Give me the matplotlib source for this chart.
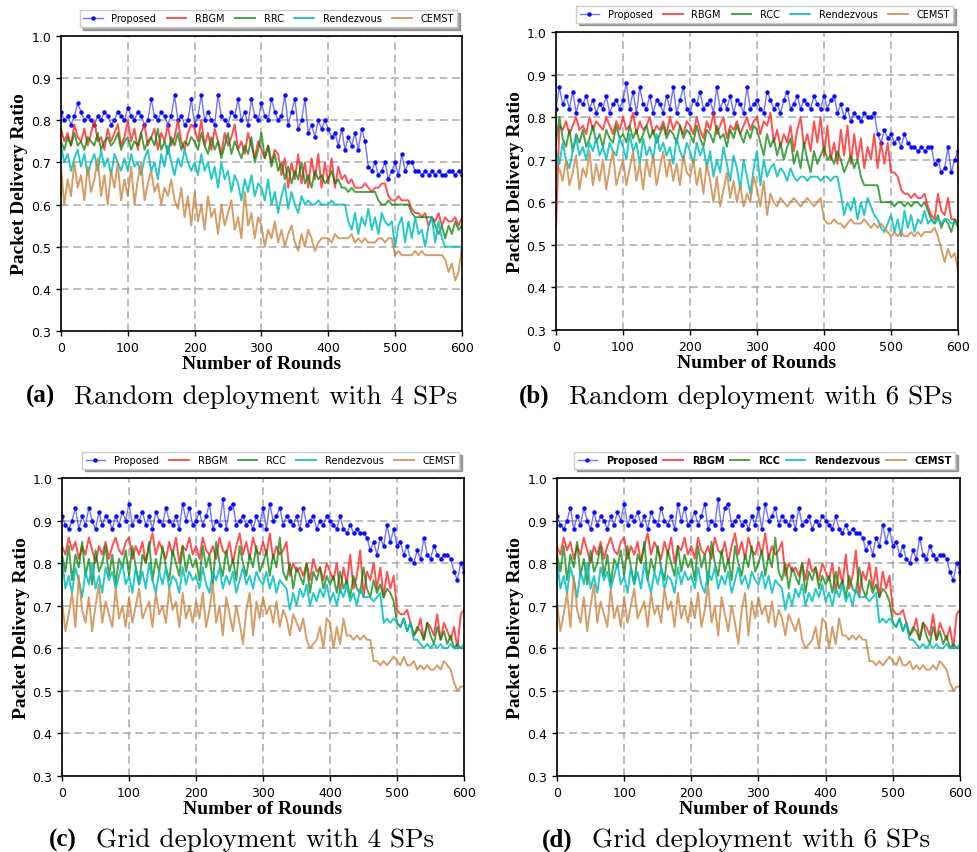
import numpy as np
import matplotlib
matplotlib.use("Agg")
import matplotlib.pyplot as plt

# rounds sampled every 5
rounds = list(range(0, 601, 5))
names_a = ["Proposed", "RBGM", "RRC", "Rendezvous", "CEMST"]
names = ["Proposed", "RBGM", "RCC", "Rendezvous", "CEMST"]
captions = [("(a)", "Random deployment with 4 SPs"),
            ("(b)", "Random deployment with 6 SPs"),
            ("(c)", "Grid deployment with 4 SPs"),
            ("(d)", "Grid deployment with 6 SPs")]

# packet delivery ratio in percent
# (a) random, 4 SPs
a_proposed = [82,80,81,79,81,84,82,80,81,80,79,81,80,82,81,79,80,82,81,80,
              83,81,80,82,81,79,80,85,81,80,82,81,79,81,86,80,81,79,80,85,
              79,81,86,80,82,80,79,86,81,80,79,82,81,85,80,82,79,85,81,80,
              84,81,80,85,82,80,81,86,79,82,85,78,80,85,77,79,76,80,78,80,
              78,76,77,74,78,73,76,74,77,73,78,75,69,68,70,67,68,70,66,68,
              70,67,72,68,70,70,68,68,67,68,67,68,67,68,67,67,68,68,67,68,67]
a_rbgm = [78,75,77,74,79,76,75,78,74,77,80,75,76,73,78,75,77,79,74,76,
          80,75,78,73,77,79,74,76,78,73,77,75,79,74,76,80,75,73,77,79,
          78,75,80,74,77,73,78,75,72,77,74,76,79,73,75,72,77,74,71,75,
          73,71,74,70,73,72,67,71,64,70,66,72,65,70,64,71,66,72,64,70,
          65,71,64,69,66,67,65,66,64,64,64,65,64,63,64,64,65,65,62,61,
          61,62,61,61,61,59,58,58,57,58,55,57,56,58,55,57,56,56,57,55,57]
a_rrc = [75,73,76,74,77,74,75,73,76,75,74,77,73,75,76,74,75,77,73,75,
         76,73,75,74,77,73,75,76,74,78,73,75,72,76,74,77,73,75,74,76,
         75,73,77,74,72,76,73,75,71,74,77,72,75,73,71,74,72,76,70,73,
         77,71,74,69,72,68,70,66,69,65,68,66,70,65,67,64,68,66,67,65,
         66,68,65,66,64,64,63,64,63,63,63,63,63,63,63,61,60,60,61,60,
         60,60,60,60,60,58,57,57,57,57,57,57,55,53,55,52,55,53,56,54,55]
a_rdv = [74,70,72,68,71,73,69,72,67,70,72,68,73,69,71,67,72,70,68,71,
         68,72,69,70,67,71,73,68,70,66,72,69,74,70,67,71,69,73,70,68,
         70,67,72,68,70,66,69,64,70,66,68,63,67,65,61,66,63,67,62,65,
         64,61,66,60,63,58,62,65,59,63,60,58,62,60,61,60,60,61,60,60,
         60,61,60,60,60,60,56,54,58,53,57,55,59,54,57,53,58,56,55,56,
         50,55,57,51,56,52,57,53,54,50,55,57,51,56,52,50,50,50,50,50,50]
a_cemst = [69,60,66,62,70,64,67,61,69,63,66,71,62,67,60,68,64,70,61,66,
           62,69,60,66,70,61,65,68,63,65,60,64,62,66,61,59,64,57,62,55,
           63,56,60,54,62,57,59,53,60,55,58,61,54,57,52,63,55,58,52,57,
           55,50,54,52,56,51,54,50,53,55,51,49,53,50,54,52,49,51,52,52,
           52,51,53,52,52,52,52,53,51,52,51,52,51,51,51,52,52,51,52,52,
           48,49,48,48,48,48,49,48,49,48,48,48,48,48,48,47,44,46,42,44,50]

# (b) random, 6 SPs
b_proposed = [82,87,83,85,82,86,81,84,83,85,82,84,81,83,82,85,81,83,84,82,
              84,88,82,86,81,87,83,82,85,81,84,83,81,85,82,87,81,84,87,82,
              81,84,83,86,82,83,84,81,87,82,84,82,85,81,84,83,81,87,82,83,
              84,82,81,86,84,82,83,81,84,86,82,83,85,82,84,83,82,85,83,82,
              85,82,84,85,81,83,80,82,79,81,80,79,81,80,80,81,76,74,77,75,
              76,74,75,73,76,74,73,73,72,73,72,73,73,69,70,67,68,73,67,70,72]
b_rbgm = [54,78,77,79,76,78,80,77,78,76,80,77,79,78,77,80,78,76,79,77,
          80,77,78,81,76,79,77,78,80,76,78,77,79,76,80,77,79,78,76,79,
          78,76,80,77,75,79,77,81,76,78,80,75,78,77,79,76,78,80,77,79,
          80,76,79,78,81,74,77,73,76,74,78,72,77,80,73,76,72,79,74,80,
          71,78,70,74,69,77,71,78,69,76,70,75,68,73,70,76,68,74,69,74,
          67,67,66,63,62,62,61,62,61,61,62,59,57,56,62,58,57,61,56,56,55]
b_rcc = [74,80,75,73,77,72,76,74,77,73,75,78,74,76,73,77,75,74,78,75,
         76,74,78,75,77,74,76,78,75,77,74,76,78,75,77,76,74,78,75,77,
         76,74,78,75,73,77,76,74,78,75,76,73,77,75,78,76,74,77,75,78,
         77,74,71,76,73,75,71,74,70,73,75,69,72,68,74,70,67,72,69,71,
         73,70,71,69,72,70,67,69,71,68,70,66,64,64,64,64,64,60,60,60,
         60,59,60,60,59,60,59,60,60,59,60,58,56,55,57,54,56,55,53,56,54]
b_rdv = [72,69,74,70,68,72,75,71,73,70,74,72,75,71,73,70,74,72,71,75,
         73,70,76,72,74,69,75,71,73,70,76,72,74,71,73,69,75,72,70,74,
         72,69,74,71,73,68,72,66,70,67,73,69,65,71,68,63,70,66,62,68,
         72,64,70,66,68,69,66,68,67,65,68,66,65,66,66,65,66,66,66,65,
         66,66,65,66,66,62,57,60,58,61,56,60,57,61,59,57,56,54,53,55,
         57,53,56,52,58,54,57,53,56,55,58,55,56,55,56,55,56,56,55,55,55]
b_cemst = [66,68,65,70,64,67,71,63,68,66,72,64,69,65,70,63,68,72,64,67,
           70,64,68,72,65,69,63,70,66,71,64,68,72,66,70,65,69,64,71,67,
           66,70,64,68,62,69,65,60,66,59,63,67,61,65,60,64,59,62,60,66,
           63,59,65,57,62,60,59,61,60,59,60,61,60,59,60,61,60,59,60,61,
           56,55,55,56,55,55,54,55,56,55,55,55,56,55,54,55,54,55,54,53,
           52,53,52,53,52,52,53,52,53,52,53,53,53,54,52,49,46,49,47,48,44]

# (c) and (d) grid deployment (same curves in both panels)
g_proposed = [91,89,88,90,93,88,91,89,93,90,88,92,89,91,90,88,91,89,92,90,
              94,89,91,90,92,89,91,88,92,90,89,93,90,89,91,88,94,90,93,89,
              90,92,89,91,94,88,90,89,95,88,93,94,89,90,91,89,90,88,91,89,
              93,88,94,90,91,93,89,91,90,89,91,88,93,89,90,91,88,90,89,91,
              90,89,88,91,88,87,89,87,88,87,87,86,83,85,82,86,84,89,85,88,
              84,85,82,84,81,80,83,81,86,82,81,84,82,81,82,82,81,78,76,80,78]
g_rbgm = [84,82,86,83,85,81,84,82,86,83,80,84,82,85,81,84,86,83,82,85,
          86,81,84,82,85,80,84,87,82,85,83,81,85,82,86,80,84,83,86,82,
          84,81,86,83,82,84,81,86,83,82,85,80,84,87,82,85,81,86,83,82,
          85,82,87,81,84,82,83,85,77,80,78,79,77,80,76,81,78,79,76,80,
          78,76,80,73,79,75,82,74,77,83,72,78,76,80,74,79,72,78,74,77,
          69,68,68,69,66,63,64,67,62,66,65,63,68,62,66,64,62,65,60,68,69]
g_rcc = [82,78,84,76,82,79,85,77,81,75,83,78,80,84,77,82,75,81,79,83,
         77,84,79,75,82,80,85,76,81,78,84,79,76,83,80,77,84,78,82,79,
         81,76,84,79,82,75,85,80,77,83,78,81,76,84,80,77,82,79,84,78,
         80,83,77,82,79,86,78,76,80,74,79,77,75,80,73,78,76,79,74,77,
         75,77,73,78,74,76,72,77,74,73,79,74,72,76,73,75,72,74,73,71,
         66,65,67,64,66,63,65,64,62,66,63,61,65,62,64,61,63,60,61,60,60]
g_rdv = [81,74,77,73,79,76,72,78,75,80,74,77,73,79,76,78,74,77,80,75,
         77,73,79,75,78,74,80,76,73,78,75,79,74,77,76,73,79,75,78,76,
         77,74,79,75,73,78,76,79,74,77,75,78,73,76,79,75,77,74,78,76,
         75,78,74,77,73,76,75,74,69,73,70,74,72,75,70,73,71,74,72,75,
         71,73,70,74,72,75,71,73,70,74,72,72,72,71,72,73,66,67,66,67,
         66,65,67,64,66,62,62,61,60,61,60,61,60,61,60,60,61,60,60,60,61]
g_cemst = [71,64,68,73,65,77,69,66,72,64,70,75,66,71,68,65,74,67,70,65,
           72,66,70,74,67,69,71,65,73,68,70,66,74,69,71,65,73,67,70,66,
           71,67,73,65,69,75,66,70,63,72,68,64,70,66,61,69,73,63,71,67,
           72,68,70,66,71,65,69,67,63,68,66,64,67,62,60,61,62,65,60,67,
           66,60,65,61,67,63,63,62,63,62,63,62,62,57,57,56,57,56,57,58,
           57,56,58,56,56,57,55,56,55,56,55,55,56,55,57,56,55,52,50,51,51]

panels = [
    [a_proposed, a_rbgm, a_rrc, a_rdv, a_cemst],
    [b_proposed, b_rbgm, b_rcc, b_rdv, b_cemst],
    [g_proposed, g_rbgm, g_rcc, g_rdv, g_cemst],
    [g_proposed, g_rbgm, g_rcc, g_rdv, g_cemst],
]
legend_names = [names_a, names, names, names]

colors = [(0, 0, 1, 0.55), (1, 0.15, 0.15, 0.8), (0.0, 0.5, 0.0, 0.72),
          (0.0, 0.75, 0.75, 0.85), (0.8, 0.52, 0.25, 0.8)]

# axes boxes in figure fractions [left, bottom, width, height]
boxes = [[0.0624, 0.6108, 0.4104, 0.3458],
         [0.5691, 0.6120, 0.4115, 0.3494],
         [0.0635, 0.0891, 0.4115, 0.3494],
         [0.5701, 0.0891, 0.4125, 0.3494]]
cap_pos = [(0.026, 0.076, 0.535), (0.531, 0.582, 0.535),
           (0.050, 0.098, 0.015), (0.555, 0.606, 0.015)]

fig = plt.figure(figsize=(9.77, 8.53), dpi=100)

for i in range(4):
    ax = fig.add_axes(boxes[i])
    series = panels[i]
    for j in range(5):
        y = np.array(series[j]) / 100.0
        if j == 0:
            ax.plot(rounds, y, color=colors[j], lw=1.0, marker='.', markersize=4.5,
                    markerfacecolor=(0, 0, 1, 0.9), markeredgecolor=(0, 0, 1, 0.9),
                    label=legend_names[i][j])
        else:
            ax.plot(rounds, y, color=colors[j], lw=1.4, label=legend_names[i][j])
    ax.set_xlim(0, 600)
    ax.set_ylim(0.3, 1.0)
    ax.set_xticks(range(0, 601, 100))
    ax.set_yticks(np.arange(0.3, 1.01, 0.1))
    ax.set_yticklabels(["0.3", "0.4", "0.5", "0.6", "0.7", "0.8", "0.9", "1.0"])
    ax.tick_params(labelsize=9, length=3.5, width=1)
    ax.grid(True, linestyle=(0, (5, 3)), color='#aaaaaa', lw=1.1)
    ax.set_axisbelow(True)
    for s in ax.spines.values():
        s.set_linewidth(1.2)
    ax.set_xlabel("Number of Rounds", fontsize=14, fontweight='bold',
                  family='Liberation Serif', labelpad=1)
    ax.set_ylabel("Packet Delivery Ratio", fontsize=14, fontweight='bold',
                  family='Liberation Serif', labelpad=2)
    prop = {'size': 7}
    colsp = 1.1
    if i == 3:
        prop['weight'] = 'bold'
        colsp = 0.6
    leg = ax.legend(loc='lower right', bbox_to_anchor=(1.0, 1.015), ncol=5, prop=prop,
                    handlelength=2.0, columnspacing=colsp, borderpad=0.35,
                    handletextpad=0.9, shadow=True, fancybox=False, framealpha=1)
    leg.get_frame().set_edgecolor('#cccccc')

    tag, text = captions[i]
    x1, x2, yc = cap_pos[i]
    fig.text(x1, yc, tag, fontsize=18, fontweight='bold', family='Liberation Serif',
             va='center', ha='left')
    fig.text(x2, yc, text, fontsize=19.5, family='cmr10', va='center', ha='left')

fig.savefig("out.png", dpi=100)
